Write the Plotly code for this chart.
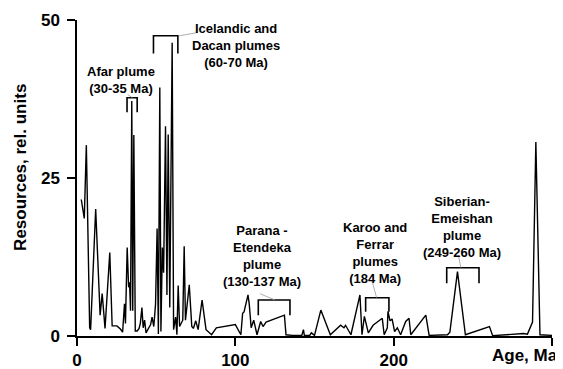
import plotly.graph_objects as go

# ---- data (age in Ma, resources in relative units) ----
ages = [2.7, 4.6, 5.9, 8.0, 8.6, 11.8, 14.6, 15.9, 17.7, 20.7, 22.2, 25.2, 27.4, 28.8,
        30.0, 30.6, 31.7, 32.6, 33.2, 33.8, 34.6, 35.2, 35.9, 36.8, 38.0, 39.2, 40.0,
        41.0, 41.8, 42.7, 43.6, 45.0, 46.5, 47.4, 48.5, 49.6, 50.6, 51.4, 52.3, 53.0,
        53.9, 54.7, 55.9, 56.8, 57.6, 58.6, 60.1, 61.0, 62.3, 63.1, 63.9, 64.8, 66.0,
        66.8, 67.7, 68.5, 70.9, 72.5, 73.5, 75.0, 76.5, 79.0, 81.5, 85.0, 88.0, 94.0,
        100.0, 103.5, 104.6, 105.5, 108.0, 108.8, 110.0, 111.6, 113.7, 116.0, 117.5,
        119.4, 131.0, 132.0, 136.0, 142.0, 143.0, 143.6, 147.0, 148.0, 150.0, 154.0,
        160.0, 166.5, 168.6, 169.6, 171.7, 173.0, 178.7, 180.0, 181.5, 184.0, 187.0,
        192.8, 194.0, 196.0, 196.4, 197.7, 199.0, 200.6, 202.3, 204.4, 207.6, 209.7,
        210.8, 220.3, 222.4, 234.0, 235.5, 240.3, 245.3, 260.5, 262.5, 275.0, 282.0,
        284.5, 287.7, 289.8, 292.4, 300.0]
resources = [21.6, 18.6, 30.2, 1.3, 1.0, 20.1, 3.3, 6.7, 1.2, 13.2, 1.6, 1.6, 1.1, 0.6,
             5.1, 2.0, 14.0, 7.7, 8.5, 4.0, 37.2, 4.0, 31.8, 0.8, 0.8, 1.2, 2.0,
             4.5, 1.3, 2.5, 0.5, 1.2, 1.8, 3.0, 1.5, 5.0, 17.0, 0.3, 39.3, 0.7,
             14.0, 10.0, 33.2, 6.5, 31.9, 4.5, 46.4, 1.0, 3.0, 0.2, 8.0, 1.5, 2.1,
             2.5, 14.2, 2.5, 8.1, 1.5, 1.2, 2.4, 1.0, 5.7, 1.0, 0.2, 1.3, 1.6,
             1.8, 0.2, 3.6, 3.8, 6.5, 5.0, 1.3, 2.5, 0.2, 2.3, 1.5,
             2.2, 3.3, 0.2, 0.1, 0.1, 1.0, 0.1, 0.1, 0.5, 0.1, 4.1,
             0.2, 1.7, 1.3, 1.7, 0.7, 0.2, 6.5, 0.2, 3.1, 0.5, 1.7,
             2.8, 0.2, 1.3, 3.9, 2.4, 2.7, 0.7, 1.3, 0.2, 2.3, 2.8,
             0.2, 3.3, 0.1, 0.2, 0.6, 10.2, 0.2, 1.5, 0.05, 0.2, 0.4,
             0.3, 2.2, 30.7, 0.2, 0.1]

x_ticks = [0, 100, 200, 300]
x_tick_labels = ["0", "100", "200", ""]
y_ticks = [0, 25, 50]
y_tick_labels = ["0", "25", "50"]

# plume annotations
plume_labels = ["Afar plume<br>(30-35 Ma)",
                "Icelandic and<br>Dacan plumes<br>(60-70 Ma)",
                "Parana -<br>Etendeka<br>plume<br>(130-137 Ma)",
                "Karoo and<br>Ferrar<br>plumes<br>(184 Ma)",
                "Siberian-<br>Emeishan<br>plume<br>(249-260 Ma)"]
label_age = [27.8, 100.4, 116.8, 188.2, 243.2]
label_val = [40.5, 46.0, 12.6, 13.1, 17.2]
br_start = [31.6, 48.3, 114.5, 182.3, 233.5]
br_end = [38.0, 63.7, 134.5, 197.0, 253.9]
br_top = [37.7, 47.5, 5.7, 6.06, 10.8]
br_bot = [35.4, 44.7, 3.3, 3.85, 8.34]
lead_x0 = [32.0, 76.0, 115.5, 186.7, 240.8]
lead_y0 = [38.2, 48.0, 6.7, 8.4, 12.8]
lead_x1 = [35.0, 64.5, 125.0, 189.2, 242.5]
lead_y1 = [37.7, 47.5, 5.7, 6.06, 10.8]

FONT = "Liberation Sans, Arial, sans-serif"

fig = go.Figure()
fig.add_trace(go.Scatter(x=ages, y=resources, mode="lines",
                         line=dict(color="black", width=1.4), showlegend=False,
                         cliponaxis=False))

shapes = []
annotations = []
for i in range(len(plume_labels)):
    shapes.append(dict(type="path", xref="x", yref="y",
                       path=f"M {br_start[i]},{br_bot[i]} L {br_start[i]},{br_top[i]} "
                            f"L {br_end[i]},{br_top[i]} L {br_end[i]},{br_bot[i]}",
                       line=dict(color="black", width=1.6)))
    shapes.append(dict(type="line", xref="x", yref="y",
                       x0=lead_x0[i], y0=lead_y0[i], x1=lead_x1[i], y1=lead_y1[i],
                       line=dict(color="#999999", width=0.8)))
    annotations.append(dict(x=label_age[i], y=label_val[i], xref="x", yref="y",
                            text=plume_labels[i], showarrow=False, align="center",
                            xanchor="center", yanchor="middle",
                            font=dict(family=FONT, size=13, color="black", weight="bold")))

annotations.append(dict(x=1.0, y=0, xref="paper", yref="paper", text="Age, Ma",
                        showarrow=False, xanchor="right", yanchor="top", yshift=-8,
                        xshift=8,
                        font=dict(family=FONT, size=17, color="black", weight="bold")))
annotations.append(dict(x=-0.118, y=0.535, xref="paper", yref="paper",
                        text="Resources, rel. units", textangle=-90, showarrow=False,
                        xanchor="center", yanchor="middle",
                        font=dict(family=FONT, size=17, color="black", weight="bold")))

# the page body has an 8px default margin: the figure is sized so that it fits the window
fig.update_layout(
    width=555, height=361,
    margin=dict(l=69, r=11, t=12, b=33, autoexpand=False),
    paper_bgcolor="white", plot_bgcolor="white",
    shapes=shapes, annotations=annotations,
    xaxis=dict(range=[0, 300], tickvals=x_ticks, ticktext=x_tick_labels,
               showline=True, linecolor="black", linewidth=1.5, automargin=False,
               ticks="outside", ticklen=8, tickwidth=1.5, tickcolor="black",
               showgrid=False, zeroline=False,
               tickfont=dict(family=FONT, size=17, color="black", weight="bold")),
    yaxis=dict(range=[0, 50], tickvals=y_ticks, ticktext=y_tick_labels,
               showline=True, linecolor="black", linewidth=1.5, automargin=False,
               ticks="outside", ticklen=8, tickwidth=1.5, tickcolor="black",
               ticklabelstandoff=4,
               showgrid=False, zeroline=False,
               tickfont=dict(family=FONT, size=17, color="black", weight="bold")),
)

fig.write_html("out.html")
